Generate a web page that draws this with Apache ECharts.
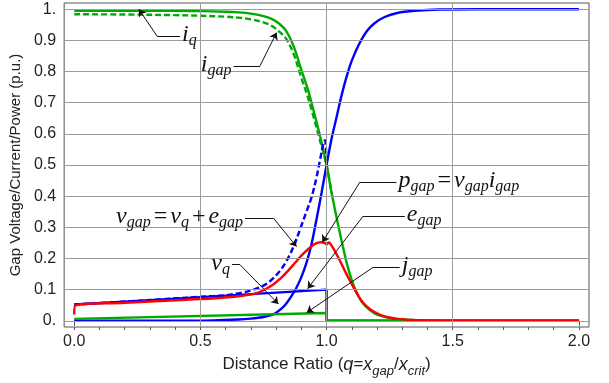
<!DOCTYPE html>
<html>
<head>
<meta charset="utf-8">
<script src="https://cdn.jsdelivr.net/npm/echarts@6/dist/echarts.min.js"></script>
<style>
html, body { margin: 0; padding: 0; background: #fff; }
#chart { width: 609px; height: 383px; }
</style>
</head>
<body>
<div id="chart"></div>
<script>
// tick / grid values
var xTicks = [0, 0.5, 1.0, 1.5, 2.0];
var xMinorTicks = [0, 0.1, 0.2, 0.3, 0.4, 0.5, 0.6, 0.7, 0.8, 0.9, 1.0, 1.1, 1.2, 1.3, 1.4, 1.5, 1.6, 1.7, 1.8, 1.9, 2.0];
var xGridLines = [0.5, 1.0, 1.5];
var yTicks = [0, 0.1, 0.2, 0.3, 0.4, 0.5, 0.6, 0.7, 0.8, 0.9, 1.0];

// curves
var iqData = [[0,0.995],[0.2,0.995],[0.4,0.995],[0.5,0.994],[0.6,0.992],[0.65,0.99],[0.7,0.986],[0.75,0.978],[0.78,0.97],[0.81,0.955],[0.84,0.93],[0.87,0.88],[0.9,0.805],[0.925,0.745],[0.95,0.67],[0.975,0.59],[1.0,0.5],[1.02,0.41],[1.04,0.33],[1.06,0.255],[1.08,0.185],[1.1,0.13],[1.12,0.09],[1.14,0.06],[1.17,0.035],[1.2,0.02],[1.25,0.009],[1.3,0.004],[1.4,0.001],[1.5,0],[2.0,0]];
var igapData = [[0,0.984],[0.2,0.983],[0.4,0.981],[0.5,0.979],[0.6,0.976],[0.65,0.973],[0.7,0.968],[0.75,0.958],[0.78,0.948],[0.81,0.93],[0.84,0.905],[0.87,0.855],[0.9,0.78],[0.925,0.72],[0.95,0.65],[0.975,0.575],[1.0,0.5],[1.02,0.41]];
var vqData = [[0,0],[0.4,0],[0.55,0.001],[0.65,0.004],[0.7,0.007],[0.75,0.012],[0.78,0.018],[0.8,0.026],[0.82,0.038],[0.84,0.055],[0.86,0.078],[0.88,0.105],[0.9,0.14],[0.92,0.185],[0.94,0.245],[0.96,0.325],[0.98,0.41],[1.0,0.5],[1.02,0.585],[1.04,0.655],[1.06,0.725],[1.08,0.785],[1.1,0.835],[1.13,0.89],[1.16,0.93],[1.19,0.955],[1.23,0.975],[1.28,0.988],[1.35,0.995],[1.45,0.999],[1.6,1.0],[2.0,1.0]];
var vgapData = [[0,0.052],[0.25,0.064],[0.5,0.077],[0.6,0.082],[0.65,0.088],[0.7,0.097],[0.75,0.113],[0.78,0.13],[0.81,0.155],[0.84,0.19],[0.87,0.24],[0.9,0.305],[0.92,0.35],[0.94,0.395],[0.96,0.46],[0.975,0.52],[0.988,0.57],[0.994,0.58],[1.0,0.5]];
var egapData = [[0,0.052],[0.25,0.064],[0.5,0.076],[0.75,0.088],[1.0,0.1],[1.0,0],[2.0,0]];
var jgapData = [[0,0.006],[0.004,0.012],[1.0,0.025],[1.0,0],[2.0,0]];
var pgapData = [[0,0.02],[0.004,0.049],[0.2,0.058],[0.4,0.066],[0.585,0.074],[0.717,0.087],[0.783,0.113],[0.82,0.138],[0.848,0.161],[0.875,0.186],[0.9,0.209],[0.93,0.232],[0.954,0.247],[0.978,0.252],[0.992,0.25],[1.0,0.246],[1.009,0.251],[1.02,0.241],[1.046,0.204],[1.072,0.161],[1.099,0.119],[1.12,0.088],[1.138,0.065],[1.16,0.045],[1.19,0.028],[1.23,0.014],[1.283,0.006],[1.35,0.002],[1.4,0.001],[1.5,0],[2.0,0]];

// annotations: text, arrow tip, knee, end of leader, side of text
var annText = [
    '{m|i}{s|q}',
    '{m|i}{s|gap}',
    '{m|v}{s|gap}{o|=}{m|v}{s|q}{o|+}{m|e}{s|gap}',
    '{m|v}{s|q}',
    '{m|p}{s|gap}{o|=}{m|v}{s|gap}{m|i}{s|gap}',
    '{m|e}{s|gap}',
    '{m|j}{s|gap}'
];
var annTip  = [[0.256,1.0],[0.802,0.925],[0.881,0.238],[0.809,0.054],[0.983,0.252],[0.925,0.103],[0.921,0.026]];
var annKnee = [[0.328,0.914],[0.736,0.818],[0.789,0.33],[0.657,0.18],[1.132,0.445],[1.145,0.336],[1.185,0.172]];
var annEnd  = [[0.419,0.914],[0.631,0.818],[0.677,0.33],[0.625,0.18],[1.277,0.445],[1.31,0.336],[1.29,0.172]];
var annSide = ['right','left','left','left','right','right','right'];

var GREEN = '#00aa00', BLUE = '#0000ff', RED = '#ff0000';

var richAnn = {
    m: {fontFamily: 'Liberation Serif', fontStyle: 'italic', fontSize: 24, lineHeight: 26, verticalAlign: 'top', color: '#111'},
    o: {fontFamily: 'Liberation Serif', fontSize: 24, lineHeight: 26, verticalAlign: 'top', color: '#111', padding: [0, 3]},
    s: {fontFamily: 'Liberation Serif', fontStyle: 'italic', fontSize: 16, lineHeight: 14, verticalAlign: 'bottom', color: '#111'}
};

var leaderLines = [], arrowLines = [], annPoints = [];
for (var i = 0; i < annText.length; i++) {
    leaderLines.push([{coord: annEnd[i]}, {coord: annKnee[i]}]);
    arrowLines.push([{coord: annKnee[i]}, {coord: annTip[i]}]);
    annPoints.push({
        coord: annEnd[i],
        label: {show: true, position: annSide[i], distance: 2, formatter: annText[i], rich: richAnn}
    });
}

function curve(data, color, dashed) {
    return {
        type: 'line', data: data, showSymbol: false, symbol: 'none',
        smooth: 0.35,
        lineStyle: {color: color, width: 2.4, type: dashed ? [6, 3] : 'solid'},
        silent: true, z: 3
    };
}

var chart = echarts.init(document.getElementById('chart'), null, {renderer: 'canvas'});

var option = {
    animation: false,
    backgroundColor: '#fff',
    grid: {left: 62, right: 20, top: 3, bottom: 56, show: true, borderColor: '#555', borderWidth: 1},
    xAxis: [{
        type: 'value', min: -0.04, max: 2.04, position: 'bottom',
        axisLine: {show: false},
        splitLine: {show: false},
        axisTick: {show: true, length: 5, customValues: xTicks, lineStyle: {color: '#555'}},
        axisLabel: {customValues: xTicks, fontFamily: 'Liberation Sans', fontSize: 16, color: '#222', margin: 7,
            formatter: function (v) { return v.toFixed(1); }},
        name: '{n|Distance Ratio (}{it|q}{n|=}{it|x}{sb|gap}{n|/}{it|x}{sb|crit}{n|)}',
        nameLocation: 'middle', nameGap: 29,
        nameTextStyle: {
            rich: {
                n: {fontFamily: 'Liberation Sans', fontSize: 17, lineHeight: 22, verticalAlign: 'top', color: '#222'},
                it: {fontFamily: 'Liberation Sans', fontStyle: 'italic', fontSize: 18, lineHeight: 22, verticalAlign: 'top', color: '#222'},
                sb: {fontFamily: 'Liberation Sans', fontStyle: 'italic', fontSize: 13, lineHeight: 12, verticalAlign: 'bottom', color: '#222'}
            }
        }
    }, {
        type: 'value', min: -0.04, max: 2.04, position: 'bottom',
        axisLine: {show: false},
        splitLine: {show: false},
        axisLabel: {show: false},
        axisTick: {show: true, length: 3, customValues: xMinorTicks, lineStyle: {color: '#555'}}
    }],
    yAxis: {
        type: 'value', min: -0.02, max: 1.02,
        axisLine: {show: false},
        splitLine: {show: false},
        axisTick: {show: false},
        axisLabel: {customValues: yTicks, fontFamily: 'Liberation Sans', fontSize: 16, color: '#222', margin: 8,
            formatter: function (v) {
                if (v === 0) return '0.';
                if (v === 1) return '1.';
                return v.toFixed(1);
            }},
        name: 'Gap Voltage/Current/Power (p.u.)',
        nameLocation: 'middle', nameRotate: 90, nameGap: 34,
        nameTextStyle: {fontFamily: 'Liberation Sans', fontSize: 15, color: '#222'}
    },
    series: [
        {   // grid lines
            type: 'line', data: [], silent: true, z: 1,
            markLine: {
                silent: true, symbol: 'none', animation: false,
                label: {show: false},
                lineStyle: {color: '#9c9c9c', width: 1, type: 'solid'},
                data: xGridLines.map(function (v) { return {xAxis: v}; })
                    .concat(yTicks.map(function (v) { return {yAxis: v}; }))
            }
        },
        curve(iqData, GREEN, false),
        curve(igapData, GREEN, true),
        curve(vqData, BLUE, false),
        curve(vgapData, BLUE, true),
        {type: 'line', data: egapData, showSymbol: false, symbol: 'none', silent: true, z: 3,
            lineStyle: {color: BLUE, width: 2.4}},
        {type: 'line', data: jgapData, showSymbol: false, symbol: 'none', silent: true, z: 3,
            lineStyle: {color: GREEN, width: 2.4}},
        curve(pgapData, RED, false),
        {   // leader lines + text
            type: 'line', data: [], silent: true, z: 5,
            markLine: {
                silent: true, symbol: 'none', animation: false,
                label: {show: false},
                lineStyle: {color: '#111', width: 1, type: 'solid'},
                data: leaderLines
            },
            markPoint: {
                silent: true, symbol: 'circle', symbolSize: 0, animation: false,
                data: annPoints
            }
        },
        {   // arrows
            type: 'line', data: [], silent: true, z: 5,
            markLine: {
                silent: true, symbol: ['none', 'arrow'], symbolSize: 7, animation: false,
                label: {show: false},
                lineStyle: {color: '#111', width: 1, type: 'solid'},
                data: arrowLines
            }
        }
    ]
};
chart.setOption(option);
</script>
</body>
</html>
